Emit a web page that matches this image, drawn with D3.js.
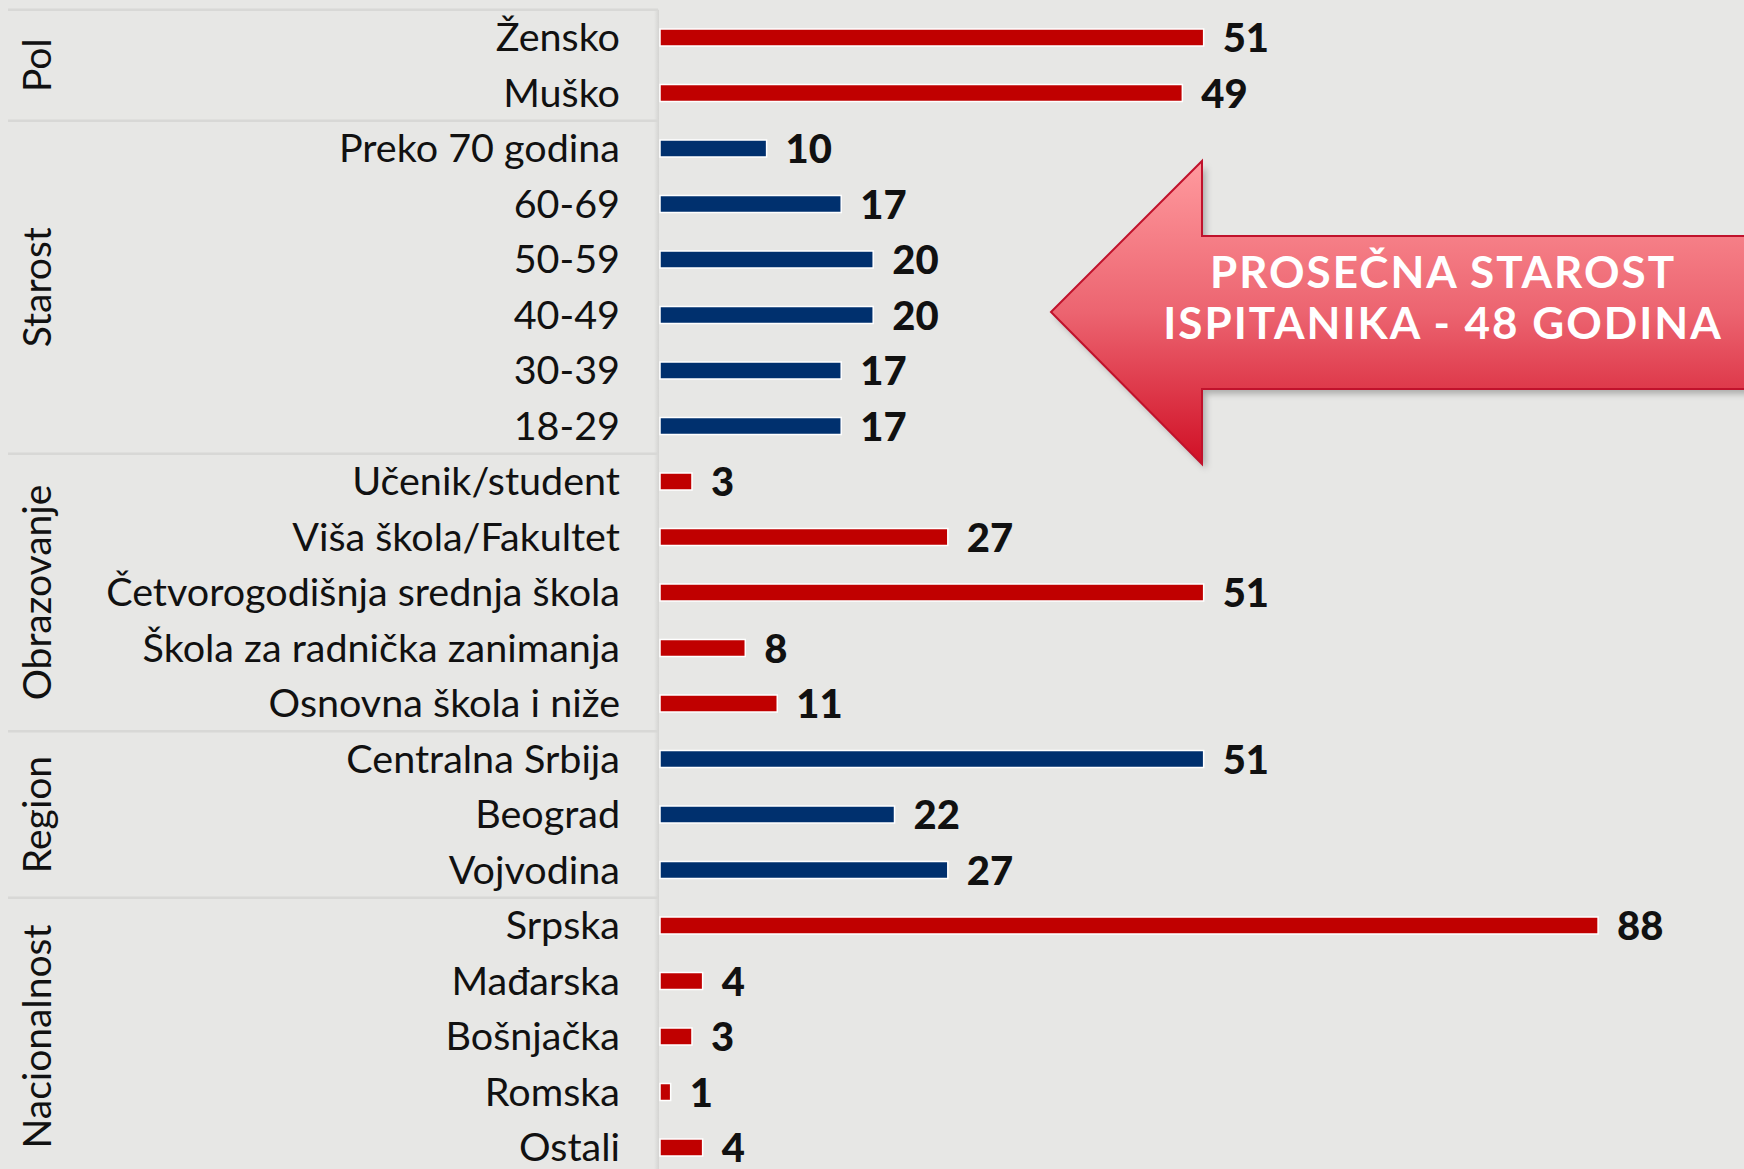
<!DOCTYPE html>
<html>
<head>
<meta charset="utf-8">
<script src="https://cdn.jsdelivr.net/npm/d3@7"></script>
<style>
  body { margin: 0; background: #e7e7e5; }
  svg { display: block; font-family: 'Gill Sans', 'Gill Sans MT', Lato, sans-serif; }
  .label { font-size: 39.5px; fill: #111; }
  .group-label { font-size: 39px; fill: #111; }
  .value { font-size: 40px; font-weight: 900; fill: #111; }
  .callout { font-size: 44px; font-weight: 700; fill: #fff; letter-spacing: 2px; }
</style>
</head>
<body>
<svg id="chart"></svg>
<script>
// svg size
const width = 1744;
const height = 1169;

// groups and how many rows each one has, top to bottom
const groups = ['Pol', 'Starost', 'Obrazovanje', 'Region', 'Nacionalnost'];
const groupSizes = [2, 6, 5, 3, 5];

const categories = [
  'Žensko', 'Muško',
  'Preko 70 godina', '60-69', '50-59', '40-49', '30-39', '18-29',
  'Učenik/student', 'Viša škola/Fakultet', 'Četvorogodišnja srednja škola',
  'Škola za radnička zanimanja', 'Osnovna škola i niže',
  'Centralna Srbija', 'Beograd', 'Vojvodina',
  'Srpska', 'Mađarska', 'Bošnjačka', 'Romska', 'Ostali'
];

const values = [
  51, 49,
  10, 17, 20, 20, 17, 17,
  3, 27, 51, 8, 11,
  51, 22, 27,
  88, 4, 3, 1, 4
];

const callout = ['PROSEČNA STAROST', 'ISPITANIKA - 48 GODINA'];

const red = '#c00000';
const blue = '#00306e';
const groupColors = [red, blue, red, blue, red];

const margin = { top: 9.75, left: 8 };
const labelRight = 620;
const barLeft = 660;
const rowStep = 55.5;
const barHeight = 17;

// which group each row belongs to
const rowGroup = [];
groupSizes.forEach((n, g) => { for (let i = 0; i < n; i++) rowGroup.push(g); });

const svg = d3.select('#chart')
  .attr('width', width)
  .attr('height', height);

const scales = {
  x: d3.scaleLinear().domain([0, 100]).range([barLeft, barLeft + 1066]),
  y: d3.scaleBand()
    .domain(categories)
    .range([margin.top, margin.top + rowStep * categories.length])
    .padding(0)
};

drawPanel();
drawBars();
drawLabels();
drawCallout();

/*
 * left panel: group separators and the vertical edge
 */
function drawPanel() {
  const group = svg.append('g').attr('id', 'panel');

  const defs = svg.append('defs');
  const edge = defs.append('linearGradient').attr('id', 'edge')
    .attr('x1', 0).attr('x2', 1).attr('y1', 0).attr('y2', 0);
  edge.append('stop').attr('offset', 0).attr('stop-color', '#e7e7e5');
  edge.append('stop').attr('offset', 1).attr('stop-color', '#d4d4d2');

  group.append('rect')
    .attr('x', barLeft - 6).attr('y', margin.top)
    .attr('width', 5).attr('height', height)
    .attr('fill', 'url(#edge)');

  // a line above each group
  let start = 0;
  const tops = groupSizes.map(n => { const s = start; start += n; return s; });
  group.selectAll('line')
    .data(tops)
    .enter()
    .append('line')
    .attr('x1', margin.left)
    .attr('x2', barLeft - 2)
    .attr('y1', d => scales.y(categories[d]))
    .attr('y2', d => scales.y(categories[d]))
    .attr('stroke', '#d8d8d6')
    .attr('stroke-width', 2.5);

  // rotated group titles
  group.selectAll('text')
    .data(groups)
    .enter()
    .append('text')
    .attr('class', 'group-label')
    .attr('text-anchor', 'middle')
    .attr('transform', (d, i) => {
      const y0 = scales.y(categories[tops[i]]);
      const mid = y0 + groupSizes[i] * rowStep / 2;
      return translate(51, mid) + ' rotate(-90)';
    })
    .text(d => d);
}

/*
 * draw bars
 */
function drawBars() {
  const group = svg.append('g').attr('id', 'bars');
  group.selectAll('rect')
    .data(values)
    .enter()
    .append('rect')
    .attr('x', scales.x(0))
    .attr('y', (d, i) => scales.y(categories[i]) + rowStep / 2 - barHeight / 2)
    .attr('width', d => scales.x(d) - scales.x(0))
    .attr('height', barHeight)
    .attr('fill', (d, i) => groupColors[rowGroup[i]])
    .attr('stroke', '#ffffff')
    .attr('stroke-width', 1.5);
}

/*
 * category names and values
 */
function drawLabels() {
  const names = svg.append('g').attr('id', 'names');
  names.selectAll('text')
    .data(categories)
    .enter()
    .append('text')
    .attr('class', 'label')
    .attr('text-anchor', 'end')
    .attr('x', labelRight)
    .attr('y', d => scales.y(d) + rowStep / 2 + 13.5)
    .text(d => d);

  const nums = svg.append('g').attr('id', 'values');
  nums.selectAll('text')
    .data(values)
    .enter()
    .append('text')
    .attr('class', 'value')
    .attr('x', d => scales.x(d) + 19)
    .attr('y', (d, i) => scales.y(categories[i]) + rowStep / 2 + 14.5)
    .text(d => d);
}

/*
 * big arrow with the average age
 */
function drawCallout() {
  const defs = svg.select('defs');
  const grad = defs.append('linearGradient').attr('id', 'arrow-fill')
    .attr('x1', 0).attr('x2', 0).attr('y1', 0).attr('y2', 1);
  grad.append('stop').attr('offset', 0).attr('stop-color', '#ff9a9e');
  grad.append('stop').attr('offset', 0.5).attr('stop-color', '#ec6470');
  grad.append('stop').attr('offset', 1).attr('stop-color', '#d00f25');

  const blur = defs.append('filter').attr('id', 'shadow')
    .attr('x', '-10%').attr('y', '-10%').attr('width', '130%').attr('height', '130%');
  blur.append('feGaussianBlur').attr('stdDeviation', 3);

  const tip = [1051, 312];
  const neck = 1202;
  const head = [161, 464];
  const shaft = [236, 389];
  const end = width + 20;

  const points = [
    tip, [neck, head[0]], [neck, shaft[0]], [end, shaft[0]],
    [end, shaft[1]], [neck, shaft[1]], [neck, head[1]]
  ];
  const path = 'M' + points.map(p => p.join(',')).join('L') + 'Z';

  const group = svg.append('g').attr('id', 'callout');
  group.append('path')
    .attr('d', path)
    .attr('fill', 'rgba(0,0,0,0.25)')
    .attr('transform', translate(4, 5))
    .attr('filter', 'url(#shadow)');
  group.append('path')
    .attr('d', path)
    .attr('fill', 'url(#arrow-fill)')
    .attr('stroke', '#c0122c')
    .attr('stroke-width', 2);

  group.selectAll('text')
    .data(callout)
    .enter()
    .append('text')
    .attr('class', 'callout')
    .attr('text-anchor', 'middle')
    .attr('x', 1443)
    .attr('y', (d, i) => 288 + i * 51)
    .text(d => d);
}

function translate(x, y) {
  return 'translate(' + String(x) + ',' + String(y) + ')';
}
</script>
</body>
</html>
